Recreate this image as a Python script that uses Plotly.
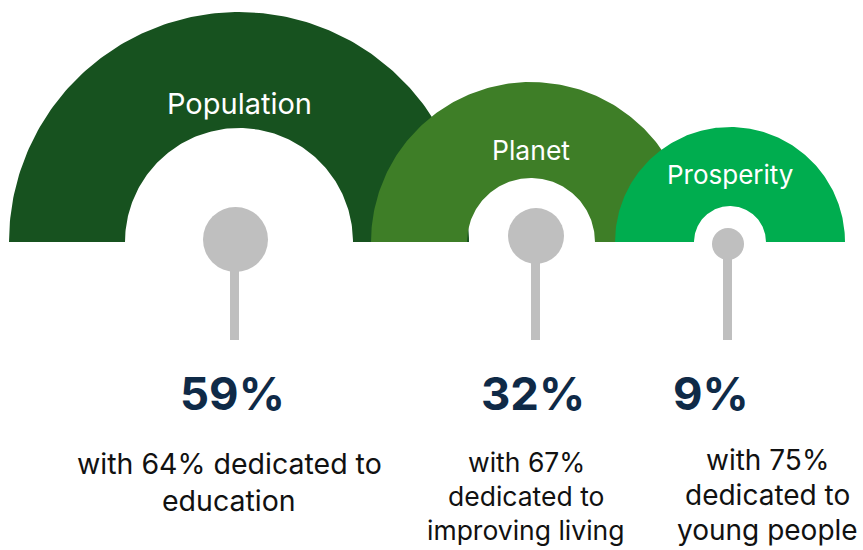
import numpy as np
import plotly.graph_objects as go

# ---- data ----
categories = ["Population", "Planet", "Prosperity"]
shares = [59, 32, 9]
dedicated_pct = [64, 67, 75]
detail_lines = [
    ["with {}% dedicated to", "education"],
    ["with {}%", "dedicated to", "improving living"],
    ["with {}%", "dedicated to", "young people"],
]

# ---- layout / style ----
W, H = 863, 550
ring_colors = ["#17521F", "#3E7E27", "#00AD4F"]
ring_cx = [239, 531, 730]
ring_outer = [230, 160, 115]
ring_inner = [114, 64, 36]
base_y = 242
dot_cx = [235.5, 536, 728]
dot_cy = [239.5, 236, 244]
dot_r = [32.5, 28, 16]
stem_x = [234.5, 535.5, 727.5]
stem_bottom = 340
label_x = [239, 531, 730]
label_y = [103, 150, 174]
label_size = [29, 26.5, 26]
pct_x = [232, 533, 711]
pct_y = 393
pct_size = 45.5
detail_x = [229, 526, 767]
detail_y0 = [463, 462, 460]
detail_gap = [37, 34, 35]
detail_size = [28.5, 26.5, 28]
FONT = "Inter"
TEXT_COLOR = "#0F2A47"
GRAY = "#BFBFBF"

fig = go.Figure()

for i, cat in enumerate(categories):
    t = np.linspace(np.pi, 0, 181)
    xo = ring_cx[i] + ring_outer[i] * np.cos(t)
    yo = base_y - ring_outer[i] * np.sin(t)
    xi = ring_cx[i] + ring_inner[i] * np.cos(t[::-1])
    yi = base_y - ring_inner[i] * np.sin(t[::-1])
    fig.add_trace(go.Scatter(
        x=np.concatenate([xo, xi, xo[:1]]),
        y=np.concatenate([yo, yi, yo[:1]]),
        mode="lines", fill="toself", fillcolor=ring_colors[i],
        line=dict(width=0, color=ring_colors[i]),
        hoverinfo="skip", showlegend=False,
    ))

for i, cat in enumerate(categories):
    fig.add_shape(type="line", x0=stem_x[i], x1=stem_x[i], y0=dot_cy[i], y1=stem_bottom,
                  line=dict(color=GRAY, width=9), layer="above")
    fig.add_shape(type="circle", x0=dot_cx[i] - dot_r[i], x1=dot_cx[i] + dot_r[i],
                  y0=dot_cy[i] - dot_r[i], y1=dot_cy[i] + dot_r[i],
                  fillcolor=GRAY, line=dict(width=0), layer="above")
    fig.add_annotation(x=label_x[i], y=label_y[i], text=cat, showarrow=False,
                       font=dict(family=FONT, size=label_size[i], color="white"),
                       xanchor="center", yanchor="middle")
    fig.add_annotation(x=pct_x[i], y=pct_y, text=f"<b>{shares[i]}%</b>", showarrow=False,
                       font=dict(family=FONT, size=pct_size, color=TEXT_COLOR),
                       xanchor="center", yanchor="middle")
    for j, line in enumerate(detail_lines[i]):
        fig.add_annotation(x=detail_x[i], y=detail_y0[i] + j * detail_gap[i],
                           text=line.format(dedicated_pct[i]), showarrow=False,
                           font=dict(family=FONT, size=detail_size[i], color="#111111"),
                           xanchor="center", yanchor="middle")

fig.update_layout(
    width=W, height=H,
    margin=dict(l=0, r=0, t=0, b=0),
    paper_bgcolor="white", plot_bgcolor="white",
    xaxis=dict(range=[0, W], visible=False, fixedrange=True),
    yaxis=dict(range=[H, 0], visible=False, fixedrange=True),
    showlegend=False,
)

fig.write_html("out.html", config={"displayModeBar": False},
               post_script="document.body.style.margin='0px';document.body.style.overflow='hidden';")
